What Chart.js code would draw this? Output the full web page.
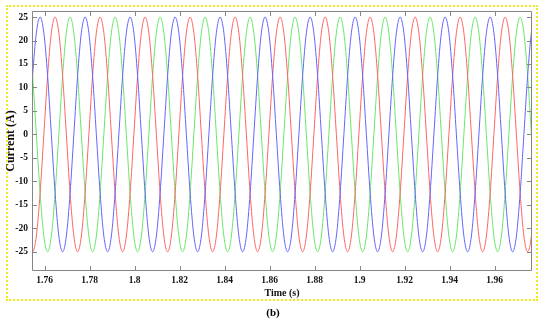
<!DOCTYPE html>
<html>
<head>
<meta charset="utf-8">
<script src="https://cdn.jsdelivr.net/npm/chart.js@4.4.1/dist/chart.umd.min.js"></script>
<style>
    html, body { margin: 0; padding: 0; background: #fff; }
    #wrap { position: relative; width: 550px; height: 321px; }
    #frame { position: absolute; left: 6px; top: 5px; width: 528px; height: 292px; border: 2px dotted #eded1a; }
    #cap { position: absolute; left: 0; top: 306px; width: 546px; text-align: center;
           font: bold 11px "Liberation Serif", serif; line-height: 12px; color: #000; }
    canvas { position: absolute; left: 0; top: 0; }
</style>
</head>
<body>
<div id="wrap">
    <div id="frame"></div>
    <canvas id="graph" width="550" height="321"></canvas>
    <div id="cap">(b)</div>
</div>
<script>
// sample times (s), every 1/12 of a 50 Hz cycle
const times = [
    1.753, 1.75467, 1.75633, 1.758, 1.75967, 1.76133,
    1.763, 1.76467, 1.76633, 1.768, 1.76967, 1.77133,
    1.773, 1.77467, 1.77633, 1.778, 1.77967, 1.78133,
    1.783, 1.78467, 1.78633, 1.788, 1.78967, 1.79133,
    1.793, 1.79467, 1.79633, 1.798, 1.79967, 1.80133,
    1.803, 1.80467, 1.80633, 1.808, 1.80967, 1.81133,
    1.813, 1.81467, 1.81633, 1.818, 1.81967, 1.82133,
    1.823, 1.82467, 1.82633, 1.828, 1.82967, 1.83133,
    1.833, 1.83467, 1.83633, 1.838, 1.83967, 1.84133,
    1.843, 1.84467, 1.84633, 1.848, 1.84967, 1.85133,
    1.853, 1.85467, 1.85633, 1.858, 1.85967, 1.86133,
    1.863, 1.86467, 1.86633, 1.868, 1.86967, 1.87133,
    1.873, 1.87467, 1.87633, 1.878, 1.87967, 1.88133,
    1.883, 1.88467, 1.88633, 1.888, 1.88967, 1.89133,
    1.893, 1.89467, 1.89633, 1.898, 1.89967, 1.90133,
    1.903, 1.90467, 1.90633, 1.908, 1.90967, 1.91133,
    1.913, 1.91467, 1.91633, 1.918, 1.91967, 1.92133,
    1.923, 1.92467, 1.92633, 1.928, 1.92967, 1.93133,
    1.933, 1.93467, 1.93633, 1.938, 1.93967, 1.94133,
    1.943, 1.94467, 1.94633, 1.948, 1.94967, 1.95133,
    1.953, 1.95467, 1.95633, 1.958, 1.95967, 1.96133,
    1.963, 1.96467, 1.96633, 1.968, 1.96967, 1.97133,
    1.973, 1.97467, 1.97633, 1.978, 1.97967, 1.98133
];

// phase currents (A)
const phaseA = [
    0, 12.5, 21.65, 25, 21.65, 12.5, 0, -12.5, -21.65, -25, -21.65, -12.5,
    0, 12.5, 21.65, 25, 21.65, 12.5, 0, -12.5, -21.65, -25, -21.65, -12.5,
    0, 12.5, 21.65, 25, 21.65, 12.5, 0, -12.5, -21.65, -25, -21.65, -12.5,
    0, 12.5, 21.65, 25, 21.65, 12.5, 0, -12.5, -21.65, -25, -21.65, -12.5,
    0, 12.5, 21.65, 25, 21.65, 12.5, 0, -12.5, -21.65, -25, -21.65, -12.5,
    0, 12.5, 21.65, 25, 21.65, 12.5, 0, -12.5, -21.65, -25, -21.65, -12.5,
    0, 12.5, 21.65, 25, 21.65, 12.5, 0, -12.5, -21.65, -25, -21.65, -12.5,
    0, 12.5, 21.65, 25, 21.65, 12.5, 0, -12.5, -21.65, -25, -21.65, -12.5,
    0, 12.5, 21.65, 25, 21.65, 12.5, 0, -12.5, -21.65, -25, -21.65, -12.5,
    0, 12.5, 21.65, 25, 21.65, 12.5, 0, -12.5, -21.65, -25, -21.65, -12.5,
    0, 12.5, 21.65, 25, 21.65, 12.5, 0, -12.5, -21.65, -25, -21.65, -12.5,
    0, 12.5, 21.65, 25, 21.65, 12.5
];
const phaseB = [
    -21.65, -25, -21.65, -12.5, 0, 12.5, 21.65, 25, 21.65, 12.5, 0, -12.5,
    -21.65, -25, -21.65, -12.5, 0, 12.5, 21.65, 25, 21.65, 12.5, 0, -12.5,
    -21.65, -25, -21.65, -12.5, 0, 12.5, 21.65, 25, 21.65, 12.5, 0, -12.5,
    -21.65, -25, -21.65, -12.5, 0, 12.5, 21.65, 25, 21.65, 12.5, 0, -12.5,
    -21.65, -25, -21.65, -12.5, 0, 12.5, 21.65, 25, 21.65, 12.5, 0, -12.5,
    -21.65, -25, -21.65, -12.5, 0, 12.5, 21.65, 25, 21.65, 12.5, 0, -12.5,
    -21.65, -25, -21.65, -12.5, 0, 12.5, 21.65, 25, 21.65, 12.5, 0, -12.5,
    -21.65, -25, -21.65, -12.5, 0, 12.5, 21.65, 25, 21.65, 12.5, 0, -12.5,
    -21.65, -25, -21.65, -12.5, 0, 12.5, 21.65, 25, 21.65, 12.5, 0, -12.5,
    -21.65, -25, -21.65, -12.5, 0, 12.5, 21.65, 25, 21.65, 12.5, 0, -12.5,
    -21.65, -25, -21.65, -12.5, 0, 12.5, 21.65, 25, 21.65, 12.5, 0, -12.5,
    -21.65, -25, -21.65, -12.5, 0, 12.5
];
const phaseC = [
    21.65, 12.5, 0, -12.5, -21.65, -25, -21.65, -12.5, 0, 12.5, 21.65, 25,
    21.65, 12.5, 0, -12.5, -21.65, -25, -21.65, -12.5, 0, 12.5, 21.65, 25,
    21.65, 12.5, 0, -12.5, -21.65, -25, -21.65, -12.5, 0, 12.5, 21.65, 25,
    21.65, 12.5, 0, -12.5, -21.65, -25, -21.65, -12.5, 0, 12.5, 21.65, 25,
    21.65, 12.5, 0, -12.5, -21.65, -25, -21.65, -12.5, 0, 12.5, 21.65, 25,
    21.65, 12.5, 0, -12.5, -21.65, -25, -21.65, -12.5, 0, 12.5, 21.65, 25,
    21.65, 12.5, 0, -12.5, -21.65, -25, -21.65, -12.5, 0, 12.5, 21.65, 25,
    21.65, 12.5, 0, -12.5, -21.65, -25, -21.65, -12.5, 0, 12.5, 21.65, 25,
    21.65, 12.5, 0, -12.5, -21.65, -25, -21.65, -12.5, 0, 12.5, 21.65, 25,
    21.65, 12.5, 0, -12.5, -21.65, -25, -21.65, -12.5, 0, 12.5, 21.65, 25,
    21.65, 12.5, 0, -12.5, -21.65, -25, -21.65, -12.5, 0, 12.5, 21.65, 25,
    21.65, 12.5, 0, -12.5, -21.65, -25
];

const xTicks = [1.76, 1.78, 1.8, 1.82, 1.84, 1.86, 1.88, 1.9, 1.92, 1.94, 1.96];
const yTicks = [-25, -20, -15, -10, -5, 0, 5, 10, 15, 20, 25];

const toPoints = vals => vals.map((v, i) => ({x: times[i], y: v}));

const serif = "'Liberation Serif', 'Times New Roman', serif";

// matlab style box with inward ticks on all four sides
const axisBox = {
    id: "axisBox",
    afterDatasetsDraw(chart) {
        const {ctx, chartArea: a, scales: {x, y}} = chart;
        const len = 5;
        ctx.save();
        ctx.strokeStyle = "#858585";
        ctx.lineWidth = 1;
        ctx.beginPath();
        ctx.rect(Math.round(a.left) + 0.5, Math.round(a.top) + 0.5,
            Math.round(a.right - a.left) - 1, Math.round(a.bottom - a.top) - 1);
        xTicks.forEach(t => {
            const px = Math.round(x.getPixelForValue(t)) + 0.5;
            ctx.moveTo(px, a.bottom);
            ctx.lineTo(px, a.bottom - len);
            ctx.moveTo(px, a.top);
            ctx.lineTo(px, a.top + len);
        });
        yTicks.forEach(t => {
            const py = Math.round(y.getPixelForValue(t)) + 0.5;
            ctx.moveTo(a.left, py);
            ctx.lineTo(a.left + len, py);
            ctx.moveTo(a.right, py);
            ctx.lineTo(a.right - len, py);
        });
        ctx.stroke();
        ctx.restore();
    }
};

const line = (data, color) => ({
    data: toPoints(data),
    borderColor: color,
    borderWidth: 1,
    pointRadius: 0,
    cubicInterpolationMode: "monotone",
    fill: false
});

new Chart(document.querySelector("#graph"), {
    type: "line",
    data: {
        datasets: [
            line(phaseA, "#6464ff"),
            line(phaseB, "#ff6464"),
            line(phaseC, "#66e866")
        ]
    },
    options: {
        responsive: false,
        animation: false,
        layout: {padding: {left: 0, top: 11, right: 18, bottom: 0}},
        plugins: {legend: {display: false}, tooltip: {enabled: false}},
        scales: {
            x: {
                type: "linear",
                min: 1.7544,
                max: 1.9766,
                grid: {display: false, drawTicks: false},
                border: {display: false},
                afterBuildTicks: scale => { scale.ticks = xTicks.map(v => ({value: v})); },
                afterFit: scale => { scale.height = 50; },
                ticks: {
                    color: "#111",
                    padding: 4,
                    maxRotation: 0,
                    font: {family: serif, size: 9.5, weight: "bold"},
                    callback: v => String(v)
                },
                title: {
                    display: true,
                    text: "Time (s)",
                    color: "#111",
                    padding: {top: 0, bottom: 22},
                    font: {family: serif, size: 10, weight: "bold"}
                }
            },
            y: {
                min: -29.1,
                max: 26.3,
                grid: {display: false, drawTicks: false},
                border: {display: false},
                afterBuildTicks: scale => { scale.ticks = yTicks.map(v => ({value: v})); },
                afterFit: scale => { scale.width = 32; },
                ticks: {
                    color: "#111",
                    padding: 4,
                    font: {family: serif, size: 9.5, weight: "bold"},
                    callback: v => String(v)
                },
                title: {
                    display: true,
                    text: "Current (A)",
                    color: "#111",
                    padding: {top: 4, bottom: 0},
                    font: {family: serif, size: 12, weight: "bold"}
                }
            }
        }
    },
    plugins: [axisBox]
});
</script>
</body>
</html>
